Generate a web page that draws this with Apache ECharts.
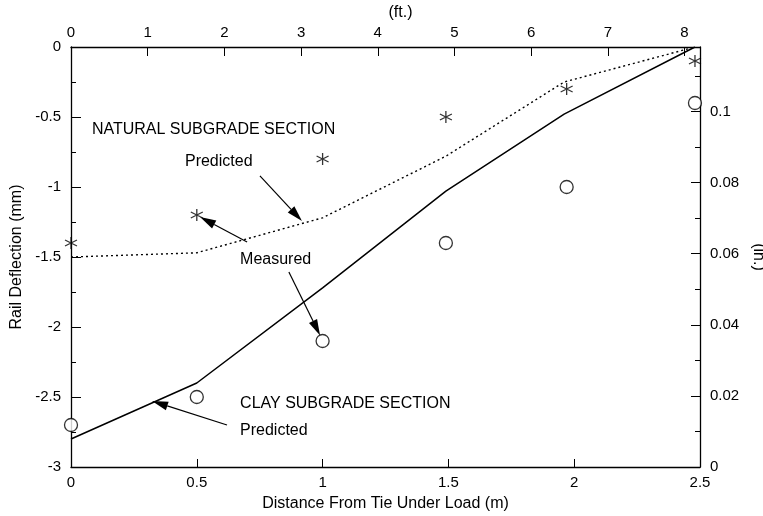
<!DOCTYPE html>
<html>
<head>
<meta charset="utf-8">
<script src="https://cdn.jsdelivr.net/npm/echarts@6/dist/echarts.min.js"></script>
<style>html,body{margin:0;padding:0;background:#fff;}#c{width:763px;height:516px;}</style>
</head>
<body>
<div id="c"></div>
<script>
// Distances (m)
const predictedDist = [0, 0.5, 1.0, 1.49, 1.96, 2.48];
const naturalPredicted = [-1.5, -1.47, -1.22, -0.78, -0.25, 0];
const clayPredicted = [-2.8, -2.4, -1.72, -1.03, -0.48, 0];
const measuredDist = [0, 0.5, 1.0, 1.49, 1.97, 2.48];
const naturalMeasured = [-1.4, -1.2, -0.8, -0.5, -0.3, -0.1];
const clayMeasured = [-2.7, -2.5, -2.1, -1.4, -1.0, -0.4];
// Axis ranges
const xMaxM = 2.5;
const ftPerM = 1 / 0.3048;
const yMinMM = -3;
const mmPerIn = 25.4;

const font = 'Liberation Sans, Arial, sans-serif';
const ink = '#000';

function pairs(xs, ys) { return xs.map((x, i) => [x, ys[i]]); }

const starPath = 'path://M5,0 L5,10 M0.67,2.5 L9.33,7.5 M0.67,7.5 L9.33,2.5';

const chart = echarts.init(document.getElementById('c'), null, {renderer: 'canvas'});
const tickTxt = {color: ink, fontFamily: font, fontSize: 15};
const nameTxt = {color: ink, fontFamily: font, fontSize: 16};
const line = {show: true, onZero: false, lineStyle: {color: ink, width: 1.3}};

chart.setOption({
  animation: false,
  backgroundColor: '#fff',
  grid: {left: 71, right: 63, top: 47, bottom: 49, containLabel: false, outerBoundsMode: 'none'},
  xAxis: [
    {
      type: 'value', position: 'bottom', min: 0, max: xMaxM, interval: 0.5,
      name: 'Distance From Tie Under Load (m)', nameLocation: 'middle', nameGap: 29,
      nameTextStyle: nameTxt,
      axisLine: line,
      axisTick: {show: true, inside: true, length: 8, lineStyle: {color: ink, width: 1}},
      axisLabel: Object.assign({margin: 8}, tickTxt),
      splitLine: {show: false}
    },
    {
      type: 'value', position: 'top', min: 0, max: xMaxM * ftPerM, interval: 1,
      name: '(ft.)', nameLocation: 'middle', nameGap: 25,
      nameTextStyle: Object.assign({padding: [0, 0, 0, 30]}, nameTxt),
      axisLine: line,
      axisTick: {show: true, inside: true, length: 9, lineStyle: {color: ink, width: 1}},
      axisLabel: Object.assign({margin: 7, formatter: v => (Math.abs(v - Math.round(v)) < 1e-6 ? String(Math.round(v)) : '')}, tickTxt),
      splitLine: {show: false}
    }
  ],
  yAxis: [
    {
      type: 'value', position: 'left', min: yMinMM, max: 0, interval: 0.5,
      name: 'Rail Deflection (mm)', nameLocation: 'middle', nameGap: 45,
      nameTextStyle: nameTxt,
      axisLine: line,
      axisTick: {show: true, inside: true, length: 10, lineStyle: {color: ink, width: 1}},
      minorTick: {show: true, splitNumber: 2, length: 5, lineStyle: {color: ink, width: 1}},
      axisLabel: Object.assign({margin: 10}, tickTxt),
      splitLine: {show: false}, minorSplitLine: {show: false}
    },
    {
      type: 'value', position: 'right', min: 0, max: -yMinMM / mmPerIn, interval: 0.02,
      name: '(in.)', nameLocation: 'middle', nameGap: 48, nameRotate: -90,
      nameTextStyle: nameTxt,
      axisLine: line,
      axisTick: {show: true, inside: true, length: 9, lineStyle: {color: ink, width: 1}},
      minorTick: {show: true, splitNumber: 2, length: 5, lineStyle: {color: ink, width: 1}},
      axisLabel: Object.assign({margin: 10, formatter: v => {
        const r = Math.round(v * 50) / 50;
        return Math.abs(v - r) < 1e-6 ? String(+r.toFixed(2)) : '';
      }}, tickTxt),
      splitLine: {show: false}, minorSplitLine: {show: false}
    }
  ],
  series: [
    {
      name: 'Natural predicted', type: 'line', xAxisIndex: 0, yAxisIndex: 0,
      data: pairs(predictedDist, naturalPredicted), showSymbol: false, symbol: 'none',
      lineStyle: {color: ink, width: 1.4, type: [2, 3]}, z: 3
    },
    {
      name: 'Clay predicted', type: 'line', xAxisIndex: 0, yAxisIndex: 0,
      data: pairs(predictedDist, clayPredicted), showSymbol: false, symbol: 'none',
      lineStyle: {color: ink, width: 1.5}, z: 3
    },
    {
      name: 'Natural measured', type: 'scatter', xAxisIndex: 0, yAxisIndex: 0,
      data: pairs(measuredDist, naturalMeasured), symbol: starPath, symbolSize: 12,
      itemStyle: {color: 'rgba(0,0,0,0)', borderColor: ink, borderWidth: 1.3}, z: 4
    },
    {
      name: 'Clay measured', type: 'scatter', xAxisIndex: 0, yAxisIndex: 0,
      data: pairs(measuredDist, clayMeasured), symbol: 'circle', symbolSize: 13,
      itemStyle: {color: '#fff', borderColor: ink, borderWidth: 1.3}, z: 4
    }
  ]
});

// Annotations placed in data coordinates (m, mm)
const texts = [
  {t: 'NATURAL SUBGRADE SECTION', at: [0.083, -0.593]},
  {t: 'Predicted', at: [0.453, -0.82]},
  {t: 'Measured', at: [0.672, -1.515]},
  {t: 'CLAY SUBGRADE SECTION', at: [0.672, -2.55]},
  {t: 'Predicted', at: [0.672, -2.74]}
];
const arrows = [
  {from: [0.751, -0.921], to: [0.918, -1.243]},
  {from: [0.70, -1.393], to: [0.513, -1.214]},
  {from: [0.866, -1.607], to: [0.99, -2.06]},
  {from: [0.62, -2.70], to: [0.322, -2.529]}
];
const px = p => chart.convertToPixel({xAxisIndex: 0, yAxisIndex: 0}, p);
const g = [];
texts.forEach(o => {
  const p = px(o.at);
  g.push({type: 'text', x: p[0], y: p[1], z: 10,
    style: {text: o.t, fill: ink, font: '16px ' + font, textAlign: 'left', textVerticalAlign: 'middle'}});
});
arrows.forEach(a => {
  const f = px(a.from), t = px(a.to);
  const dx = t[0] - f[0], dy = t[1] - f[1];
  const L = Math.hypot(dx, dy), ux = dx / L, uy = dy / L;
  const hl = 16, hw = 4.5;
  const bx = t[0] - ux * hl, by = t[1] - uy * hl;
  g.push({type: 'line', z: 10, shape: {x1: f[0], y1: f[1], x2: bx, y2: by}, style: {stroke: ink, lineWidth: 1.2}});
  g.push({type: 'polygon', z: 10, shape: {points: [
    [t[0], t[1]], [bx - uy * hw, by + ux * hw], [bx + uy * hw, by - ux * hw]
  ]}, style: {fill: ink}});
});
chart.setOption({graphic: g});
</script>
</body>
</html>
